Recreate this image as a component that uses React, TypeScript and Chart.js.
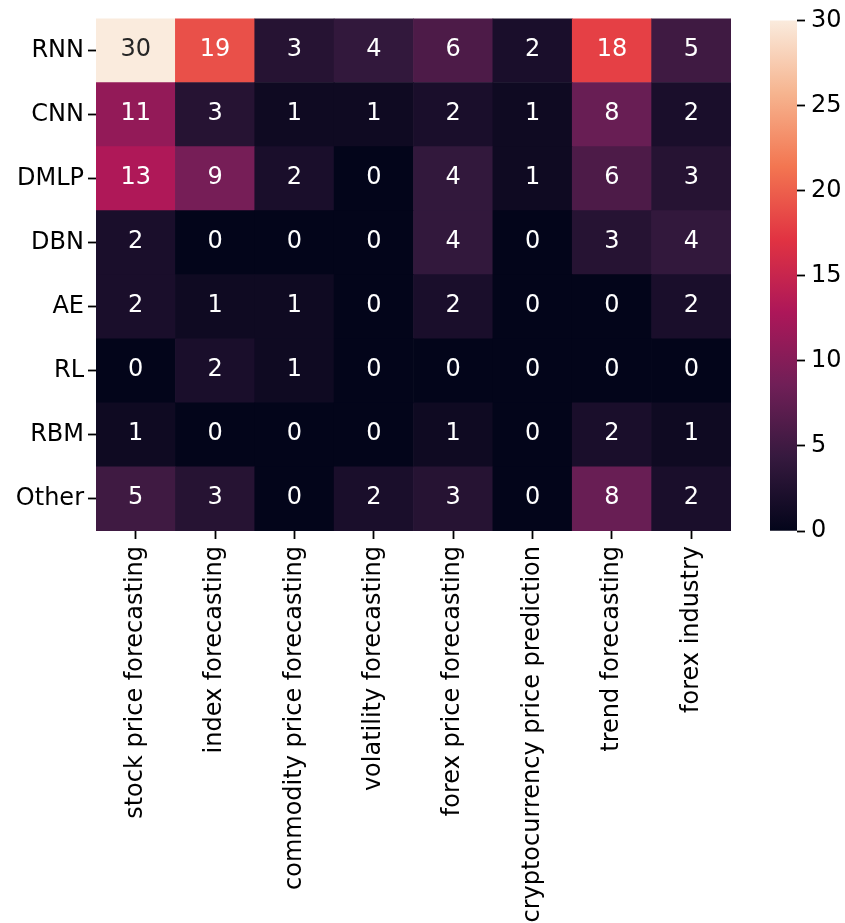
import React, { useEffect, useRef } from "react";
import { Chart, registerables } from "chart.js";

Chart.register(...registerables);

const rowLabels = ["RNN", "CNN", "DMLP", "DBN", "AE", "RL", "RBM", "Other"];
const colLabels = [
  "stock price forecasting",
  "index forecasting",
  "commodity price forecasting",
  "volatility forecasting",
  "forex price forecasting",
  "cryptocurrency price prediction",
  "trend forecasting",
  "forex industry",
];
const rnnValues = [30, 19, 3, 4, 6, 2, 18, 5];
const cnnValues = [11, 3, 1, 1, 2, 1, 8, 2];
const dmlpValues = [13, 9, 2, 0, 4, 1, 6, 3];
const dbnValues = [2, 0, 0, 0, 4, 0, 3, 4];
const aeValues = [2, 1, 1, 0, 2, 0, 0, 2];
const rlValues = [0, 2, 1, 0, 0, 0, 0, 0];
const rbmValues = [1, 0, 0, 0, 1, 0, 2, 1];
const otherValues = [5, 3, 0, 2, 3, 0, 8, 2];
const colorbarTicks = [0, 5, 10, 15, 20, 25, 30];
const vmin = 0;
const vmax = 30;

const matrix = [rnnValues, cnnValues, dmlpValues, dbnValues, aeValues, rlValues, rbmValues, otherValues];

const FONT = "'DejaVu Sans', 'Liberation Sans', sans-serif";
const FS = 24;

// rocket colormap stops
const rocketStops: [number, string][] = [
  [0, "#03051a"],
  [1 / 7, "#35193e"],
  [2 / 7, "#701f57"],
  [3 / 7, "#ad1759"],
  [4 / 7, "#e13342"],
  [5 / 7, "#f37651"],
  [6 / 7, "#f6b48f"],
  [1, "#faebdd"],
];

function hexToRgb(h: string) {
  return [parseInt(h.slice(1, 3), 16), parseInt(h.slice(3, 5), 16), parseInt(h.slice(5, 7), 16)];
}

function rocketRgb(t: number) {
  t = Math.max(0, Math.min(1, t));
  for (let i = 0; i < rocketStops.length - 1; i++) {
    const [t0, c0] = rocketStops[i];
    const [t1, c1] = rocketStops[i + 1];
    if (t <= t1) {
      const f = (t - t0) / (t1 - t0);
      const a = hexToRgb(c0);
      const b = hexToRgb(c1);
      return a.map((v, k) => Math.round(v + (b[k] - v) * f));
    }
  }
  return hexToRgb(rocketStops[rocketStops.length - 1][1]);
}

function rocket(t: number) {
  const [r, g, b] = rocketRgb(t);
  return `rgb(${r},${g},${b})`;
}

function luminance(rgb: number[]) {
  const lin = rgb.map((c) => {
    const v = c / 255;
    return v <= 0.03928 ? v / 12.92 : Math.pow((v + 0.055) / 1.055, 2.4);
  });
  return 0.2126 * lin[0] + 0.7152 * lin[1] + 0.0722 * lin[2];
}

const cells = matrix.flatMap((row, r) =>
  row.map((v, c) => ({ x: colLabels[c], y: [r, r + 1], v }))
);

const annotatePlugin = {
  id: "annotate",
  afterDatasetsDraw(chart: any) {
    const ctx = chart.ctx;
    const meta = chart.getDatasetMeta(0);
    ctx.save();
    ctx.font = `${FS}px ${FONT}`;
    ctx.textAlign = "center";
    ctx.textBaseline = "middle";
    meta.data.forEach((el: any, i: number) => {
      const raw = chart.data.datasets[0].data[i];
      const rgb = rocketRgb((raw.v - vmin) / (vmax - vmin));
      ctx.fillStyle = luminance(rgb) > 0.408 ? "#262626" : "#ffffff";
      const p = el.getCenterPoint();
      ctx.fillText(String(raw.v), p.x, p.y - 1);
    });
    ctx.restore();
  },
};

export default function App() {
  const heatRef = useRef<HTMLCanvasElement>(null);
  const barRef = useRef<HTMLCanvasElement>(null);

  useEffect(() => {
    const heat = new Chart(heatRef.current!, {
      type: "bar",
      data: {
        labels: colLabels,
        datasets: [
          {
            data: cells as any,
            backgroundColor: (ctx: any) => {
              const raw = ctx.raw;
              return raw ? rocket((raw.v - vmin) / (vmax - vmin)) : "#000";
            },
            borderWidth: 0,
            barPercentage: 1,
            categoryPercentage: 1,
          },
        ],
      },
      options: {
        animation: false,
        responsive: false,
        maintainAspectRatio: false,
        layout: { padding: { top: 16, right: 29, left: 0, bottom: 0 } },
        plugins: { legend: { display: false }, tooltip: { enabled: false } },
        scales: {
          x: {
            type: "category",
            border: { display: false },
            grid: {
              offset: false,
              drawOnChartArea: false,
              drawTicks: true,
              tickLength: 8,
              tickColor: "#000",
              tickWidth: 1.8,
            },
            ticks: {
              autoSkip: false,
              minRotation: 90,
              maxRotation: 90,
              padding: 7,
              color: "#000",
              font: { size: FS, family: FONT },
            },
            afterFit: (s: any) => {
              s.height = 392;
            },
          },
          y: {
            type: "linear",
            min: 0,
            max: rowLabels.length,
            reverse: true,
            border: { display: false },
            grid: {
              drawOnChartArea: false,
              drawTicks: true,
              tickLength: 8,
              tickColor: "#000",
              tickWidth: 1.8,
            },
            afterBuildTicks: (s: any) => {
              s.ticks = rowLabels.map((_, i) => ({ value: i + 0.5 }));
            },
            ticks: {
              padding: 4,
              color: "#000",
              font: { size: FS, family: FONT },
              callback: (v: any) => rowLabels[Math.floor(Number(v))],
            },
            afterFit: (s: any) => {
              s.width = 96;
            },
          },
        },
      },
      plugins: [annotatePlugin],
    });

    const bar = new Chart(barRef.current!, {
      type: "bar",
      data: {
        labels: [""],
        datasets: [
          {
            data: [[vmin, vmax]] as any,
            backgroundColor: (ctx: any) => {
              const ca = ctx.chart.chartArea;
              if (!ca) return "#000";
              const g = ctx.chart.ctx.createLinearGradient(0, ca.bottom, 0, ca.top);
              rocketStops.forEach(([t, c]) => g.addColorStop(t, c));
              return g;
            },
            borderWidth: 0,
            barPercentage: 1,
            categoryPercentage: 1,
          },
        ],
      },
      options: {
        animation: false,
        responsive: false,
        maintainAspectRatio: false,
        layout: { padding: { top: 16, left: 10, right: 0, bottom: 392 } },
        plugins: { legend: { display: false }, tooltip: { enabled: false } },
        scales: {
          x: { display: false },
          y: {
            type: "linear",
            position: "right",
            min: vmin,
            max: vmax,
            border: { display: false },
            grid: {
              drawOnChartArea: false,
              drawTicks: true,
              tickLength: 8,
              tickColor: "#000",
              tickWidth: 1.8,
            },
            afterBuildTicks: (s: any) => {
              s.ticks = colorbarTicks.map((v) => ({ value: v }));
            },
            ticks: {
              padding: 6,
              color: "#000",
              font: { size: FS, family: FONT },
            },
            afterFit: (s: any) => {
              s.width = 48;
            },
          },
        },
      },
    });

    return () => {
      heat.destroy();
      bar.destroy();
    };
  }, []);

  return (
    <div style={{ position: "absolute", left: 0, top: 0, width: 845, height: 923, background: "#fff" }}>
      <canvas
        ref={heatRef}
        width={760}
        height={923}
        style={{ position: "absolute", left: 0, top: 0, width: 760, height: 923 }}
      />
      <canvas
        ref={barRef}
        width={85}
        height={923}
        style={{ position: "absolute", left: 760, top: 0, width: 85, height: 923 }}
      />
    </div>
  );
}
